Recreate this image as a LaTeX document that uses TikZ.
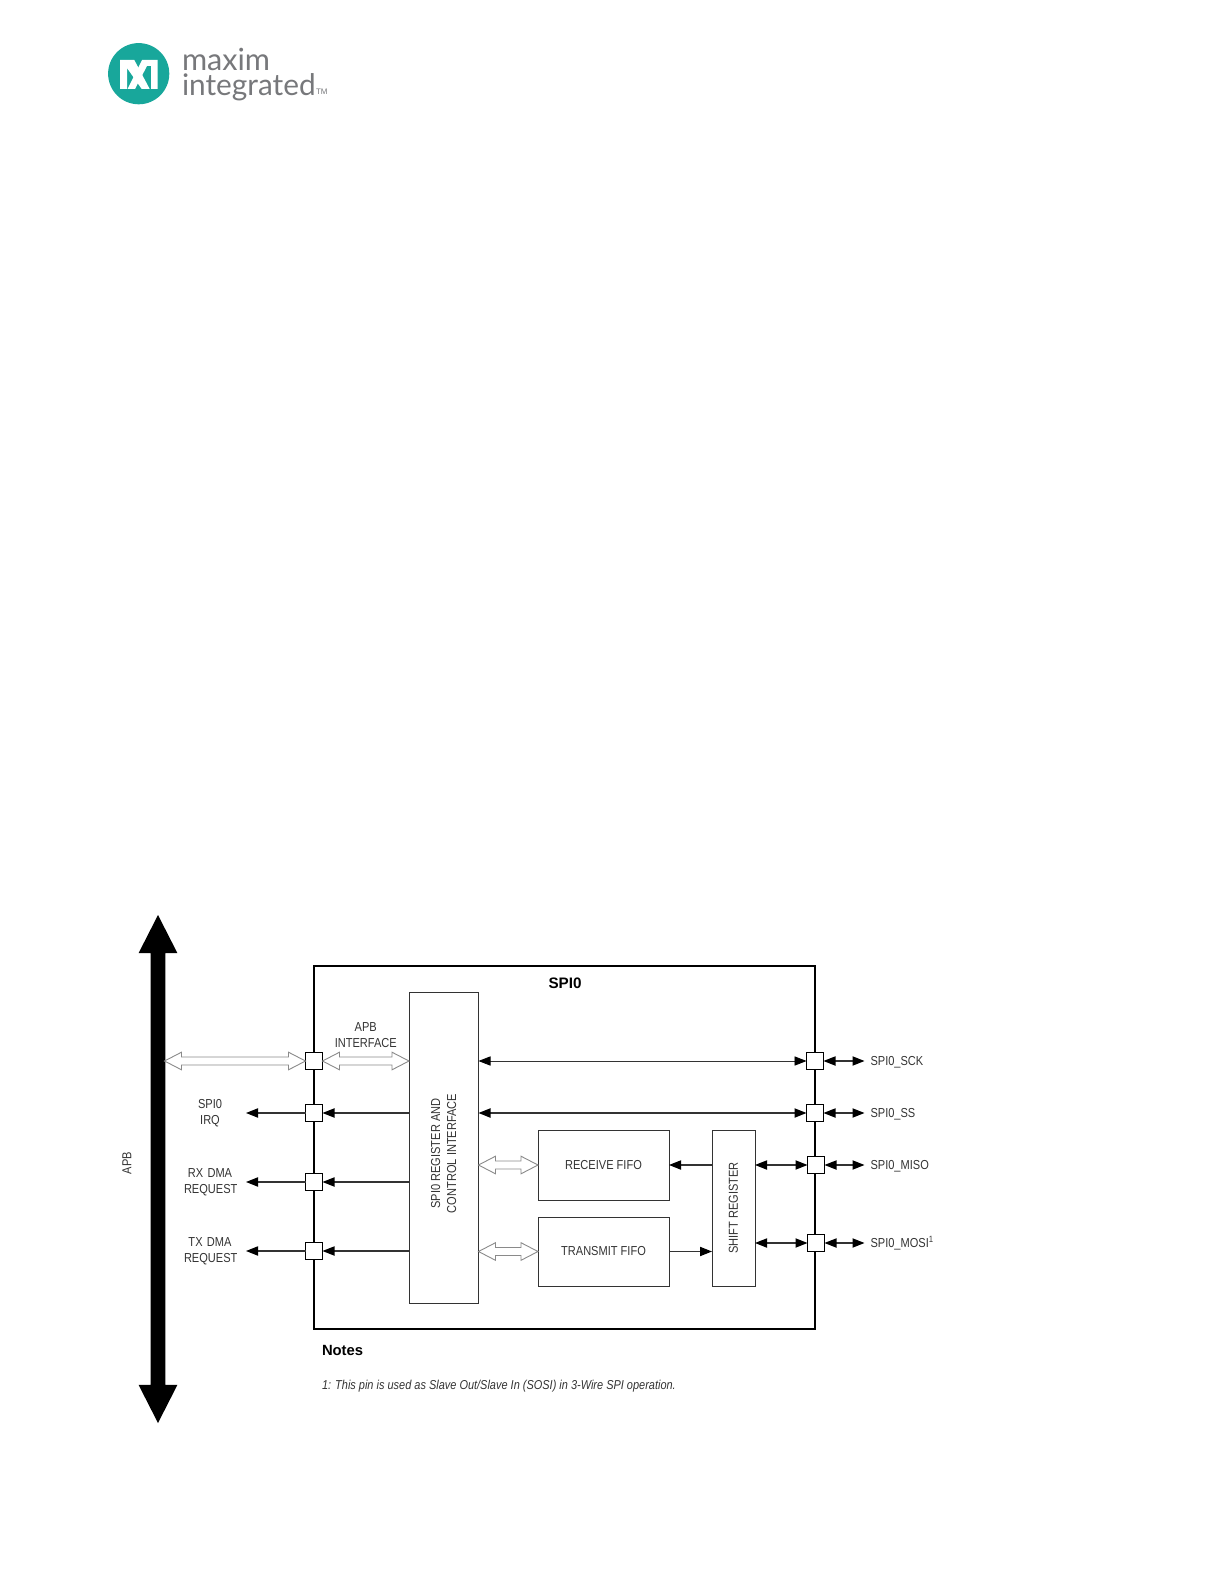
\documentclass[tikz,border=0pt]{standalone}
\usepackage{fontspec}
\setmainfont{Liberation Sans}[FakeStretch=0.85]
\newfontfamily\headfont{Liberation Sans}
\newfontfamily\logofont{Lato}
\usepackage{tikz}
\usetikzlibrary{positioning,arrows.meta,shapes.arrows,calc}

\definecolor{maximteal}{HTML}{18A79B}
\definecolor{maximgray}{HTML}{77787B}
\definecolor{inkgray}{HTML}{333333}
\definecolor{busgray}{HTML}{8A8A8A}

\begin{document}
\begin{tikzpicture}[
			x=0.5pt,
			y=-0.5pt,
			>={Triangle[length=6pt,width=4.6pt,black]},
			every node/.style={
				outer sep=0pt,
				text=inkgray,
				font=\fontsize{6.5}{8}\selectfont,
				align=center
			},
			blockbox/.style={
				draw=inkgray,
				line width=0.5pt,
				inner sep=0pt
			},
			pinbox/.style={
				draw=black,
				fill=white,
				line width=0.55pt,
				inner sep=0pt,
				minimum size=8.5pt
			},
			sigline/.style={
				draw=inkgray,
				line width=0.6pt
			},
			pinlabel/.style={
				inner xsep=3pt,
				inner ysep=0pt,
				text height=5.5pt,
				text depth=0.8pt
			},
			reqlabel/.style={
				text width=26pt,
				inner xsep=5pt,
				inner ysep=0pt
			},
			hollowbus/.style={
				draw=busgray,
				fill=white,
				line width=0.45pt,
				to path={
					let \p1=(\tikztostart), \p2=(\tikztotarget) in
					-- (\x1+8.5pt,\y1+4.4pt) -- (\x1+8.5pt,\y1+2pt)
					-- (\x2-8.5pt,\y1+2pt) -- (\x2-8.5pt,\y1+4.4pt)
					-- (\x2,\y1)
					-- (\x2-8.5pt,\y1-4.4pt) -- (\x2-8.5pt,\y1-2pt)
					-- (\x1+8.5pt,\y1-2pt) -- (\x1+8.5pt,\y1-4.4pt)
					-- cycle
				}
			}
			]
			
			\useasboundingbox (0,0) rectangle (1224,1584);
			
			%--------------------------------------------------
			% Logo
			%--------------------------------------------------
			
			\node (logomark) [circle,fill=maximteal,minimum size=30.6pt,inner sep=0pt] at (138.7,73.7) {};
			
			\fill[white] (120,60) -- (134.3,60) -- (149.7,89) -- (141.7,89) -- (127,68) -- (127,89) -- (120,89) -- cycle;
			\fill[white] (142,60) -- (157.7,60) -- (157.7,89) -- (151,89) -- (151,66) -- (147,66) -- (135,89) -- (127.5,89) -- cycle;
			
			\node (logomaxim) [anchor=base west,inner sep=0pt,text=maximgray,font=\logofont\fontsize{15.3}{16}\selectfont] at (182,71) {maxim};
			
			\node (logointeg) [anchor=base west,inner sep=0pt,text=maximgray,font=\logofont\fontsize{14.9}{16}\selectfont] at (182,96) {integrated};
			
			\node (logotm) [anchor=base west,inner sep=0pt,text=maximgray,font=\headfont\fontsize{4}{4}\selectfont] at (316,95) {TM};
			
			%--------------------------------------------------
			% APB Bus
			%--------------------------------------------------
			
			\node (apbbus) [
				double arrow,
				rotate=90,
				fill=black,
				inner xsep=0pt,
				inner ysep=3.5pt,
				minimum height=254pt,
				minimum width=19pt,
				double arrow head extend=6pt,
				double arrow tip angle=54
			] at (158,1169) {};
			
			\node (apblabel) [rotate=90] at (127,1163) {APB};
			
			%--------------------------------------------------
			% SPI0 Block
			%--------------------------------------------------
			
			\node (spi) [
				draw=black,
				line width=0.85pt,
				inner sep=0pt,
				minimum width=250.5pt,
				minimum height=181.5pt,
				anchor=north west
			] at (314,966) {};
			
			\node (spititle) [font=\headfont\bfseries\fontsize{7.6}{9}\selectfont,text=black] at (565,983) {SPI0};
			
			\node (regbox) [blockbox,minimum width=34.75pt,minimum height=155.5pt,below right=13pt and 47.5pt of spi.north west] {};
			
			\node (regtext) [rotate=90] at ($(regbox.center)+(0,6)$) {SPI0 REGISTER AND\\CONTROL INTERFACE};
			
			\node (rxfifo) [blockbox,minimum width=65.5pt,minimum height=35pt,below right=69pt and 29.75pt of regbox.north east] {RECEIVE FIFO};
			
			\node (txfifo) [blockbox,minimum width=65.5pt,minimum height=34.5pt,below=8.5pt of rxfifo] {TRANSMIT FIFO};
			
			\node (shiftreg) [blockbox,minimum width=21.5pt,minimum height=78pt,below right=0pt and 21.5pt of rxfifo.north east] {};
			
			\node (shifttext) [rotate=90] at (shiftreg) {SHIFT REGISTER};
			
			%--------------------------------------------------
			% Pins, Left
			%--------------------------------------------------
			
			\node (pinapb) [pinbox] at (314,1061) {};
			
			\node (pinirq) [pinbox,below=17.5pt of pinapb] {};
			
			\node (pinrx) [pinbox,below=26pt of pinirq] {};
			
			\node (pintx) [pinbox,below=26pt of pinrx] {};
			
			\coordinate [left=70.5pt of pinapb] (busport);
			
			\node (irqlabel) [reqlabel,left=29.75pt of pinirq] {SPI0\\IRQ};
			
			\node (rxlabel) [reqlabel,left=29.75pt of pinrx] {RX DMA\\REQUEST};
			
			\node (txlabel) [reqlabel,left=29.75pt of pintx] {TX DMA\\REQUEST};
			
			%--------------------------------------------------
			% Pins, Right
			%--------------------------------------------------
			
			\node (pinsck) [pinbox] at (815,1061) {};
			
			\node (pinss) [pinbox,below=17.5pt of pinsck] {};
			
			\node (pinmiso) [pinbox,below=17.5pt of pinss,xshift=0.5pt] {};
			
			\node (pinmosi) [pinbox,below=30.5pt of pinmiso] {};
			
			\node (scklabel) [pinlabel,right=20.5pt of pinsck] {SPI0\_SCK};
			
			\node (sslabel) [pinlabel,right=20.5pt of pinss] {SPI0\_SS};
			
			\node (misolabel) [pinlabel,right=20pt of pinmiso] {SPI0\_MISO};
			
			\node (mosilabel) [pinlabel,right=20pt of pinmosi] {SPI0\_MOSI\textsuperscript{1}};
			
			%--------------------------------------------------
			% Notes
			%--------------------------------------------------
			
			\node (notes) [inner sep=0pt,text=black,font=\headfont\bfseries\fontsize{7.4}{9}\selectfont,below right=8pt and 4pt of spi.south west] {Notes};
			
			\node (notetext) [inner sep=0pt,font=\itshape\fontsize{6.45}{8}\selectfont,below right=12.5pt and 0pt of notes.south west] {1: This pin is used as Slave Out/Slave In (SOSI) in 3-Wire SPI operation.};
			
			%--------------------------------------------------
			% Hollow Buses
			%--------------------------------------------------
			
			\draw[hollowbus] (busport) to (pinapb.west);
			
			\draw[hollowbus] (pinapb.east) to (pinapb.east -| regbox.west);
			
			\draw[hollowbus] (rxfifo.west -| regbox.east) to (rxfifo.west);
			
			\draw[hollowbus] (txfifo.west -| regbox.east) to (txfifo.west);
			
			\path (pinapb.east) -- node[above=3.5pt] (apbif) {APB\\INTERFACE} (pinapb.east -| regbox.west);
			
			%--------------------------------------------------
			% Flow
			%--------------------------------------------------
			
			\draw[->,sigline] (pinirq.west) -- (irqlabel.east);
			
			\draw[->,sigline] (pinrx.west) -- (rxlabel.east);
			
			\draw[->,sigline] (pintx.west) -- (txlabel.east);
			
			\draw[->,sigline] (pinirq.east -| regbox.west) -- (pinirq.east);
			
			\draw[->,sigline] (pinrx.east -| regbox.west) -- (pinrx.east);
			
			\draw[->,sigline] (pintx.east -| regbox.west) -- (pintx.east);
			
			\draw[<->,sigline,line width=0.4pt] (pinsck.west -| regbox.east) -- (pinsck.west);
			
			\draw[<->,sigline,line width=0.7pt] (pinss.west -| regbox.east) -- (pinss.west);
			
			\draw[->,sigline] (rxfifo.east -| shiftreg.west) -- (rxfifo.east);
			
			\draw[->,sigline] (txfifo.east) -- (txfifo.east -| shiftreg.west);
			
			\draw[<->,sigline] (pinmiso.west -| shiftreg.east) -- (pinmiso.west);
			
			\draw[<->,sigline] (pinmosi.west -| shiftreg.east) -- (pinmosi.west);
			
			\draw[<->,sigline] (pinsck.east) -- (scklabel.west);
			
			\draw[<->,sigline] (pinss.east) -- (sslabel.west);
			
			\draw[<->,sigline] (pinmiso.east) -- (misolabel.west);
			
			\draw[<->,sigline] (pinmosi.east) -- (mosilabel.west);
			
		\end{tikzpicture}
\end{document}
